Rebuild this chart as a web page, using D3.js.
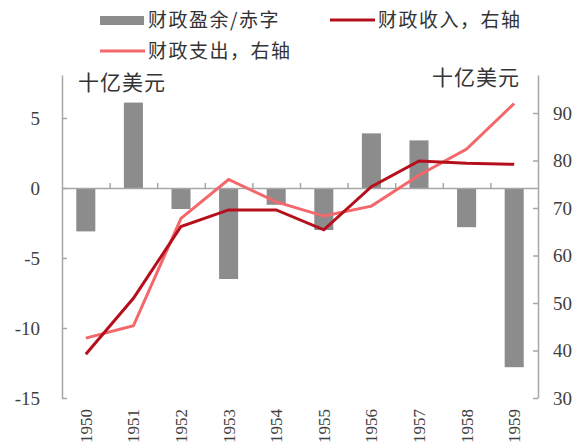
<!DOCTYPE html>
<html>
<head>
<meta charset="utf-8">
<script src="https://cdn.jsdelivr.net/npm/d3@7"></script>
<style>
  body { margin: 0; background: #fff; }
  svg { display: block; }
</style>
</head>
<body>
<div id="chart"></div>
<script>
// data
const years = ['1950', '1951', '1952', '1953', '1954', '1955', '1956', '1957', '1958', '1959'];
const surplus = [-3.1, 6.1, -1.5, -6.5, -1.2, -3.0, 3.9, 3.4, -2.8, -12.8];   // 财政盈余/赤字, left axis
const revenue = [39.2, 51.0, 66.1, 69.6, 69.6, 65.4, 74.5, 79.9, 79.4, 79.2]; // 财政收入, right axis
const spending = [42.6, 45.2, 67.8, 76.0, 71.3, 68.3, 70.4, 76.9, 82.4, 92.0]; // 财政支出, right axis
const leftTicks = [-15, -10, -5, 0, 5];
const rightTicks = [30, 40, 50, 60, 70, 80, 90];

const W = 578, H = 445;
const plotLeft = 62, plotRight = 538, plotTop = 75, plotBottom = 398;
const axisColor = '#a6a6a6';
const cjk = '"Noto Sans CJK SC", sans-serif';
const serif = '"Liberation Serif", "DejaVu Serif", serif';

const svg = d3.select('#chart').append('svg')
  .attr('width', W)
  .attr('height', H);

const x = d3.scaleBand()
  .domain(years)
  .range([plotLeft, plotRight])
  .paddingInner(0.6)
  .paddingOuter(0.3);

const yL = d3.scaleLinear().domain([-15, 8.07]).range([plotBottom, plotTop]);
const yR = d3.scaleLinear().domain([30, 98]).range([plotBottom, plotTop]);

// bars
svg.append('g')
  .selectAll('rect')
  .data(surplus)
  .enter()
  .append('rect')
  .attr('x', (d, i) => x(years[i]))
  .attr('y', d => Math.min(yL(d), yL(0)))
  .attr('width', x.bandwidth())
  .attr('height', d => Math.abs(yL(d) - yL(0)))
  .attr('fill', '#8c8c8c');

// zero line with category boundary ticks
const xb = d3.scaleLinear().domain([0, years.length]).range([plotLeft, plotRight]);
const zero = svg.append('g')
  .attr('transform', `translate(0,${yL(0)})`)
  .call(d3.axisTop(xb).tickValues(d3.range(1, years.length)).tickSize(5).tickSizeOuter(0).tickFormat(''));
zero.selectAll('path, line').attr('stroke', axisColor).attr('stroke-width', 1.5);

// left axis (plain hyphen for negatives, like the original)
const gL = svg.append('g')
  .attr('transform', `translate(${plotLeft},0)`)
  .call(d3.axisLeft(yL).tickValues(leftTicks).tickSize(-5).tickSizeOuter(0).tickPadding(22)
    .tickFormat(d => String(d)));
gL.selectAll('path, line').attr('stroke', axisColor).attr('stroke-width', 1.5);
gL.selectAll('text').attr('font-family', serif).attr('font-size', 19).attr('fill', '#404040');

// right axis
const gR = svg.append('g')
  .attr('transform', `translate(${plotRight},0)`)
  .call(d3.axisRight(yR).tickValues(rightTicks).tickSize(-5).tickSizeOuter(0).tickPadding(15));
gR.selectAll('path, line').attr('stroke', axisColor).attr('stroke-width', 1.5);
gR.selectAll('text').attr('font-family', serif).attr('font-size', 19).attr('fill', '#404040');

// year labels
svg.append('g')
  .selectAll('text')
  .data(years)
  .enter()
  .append('text')
  .attr('transform', d => `translate(${x(d) + x.bandwidth() / 2 + 6},409) rotate(-90)`)
  .attr('text-anchor', 'end')
  .attr('font-family', serif)
  .attr('font-size', 17)
  .attr('fill', '#404040')
  .text(d => d);

// lines
const line = d3.line()
  .x((d, i) => x(years[i]) + x.bandwidth() / 2)
  .y(d => yR(d));

svg.append('path')
  .datum(spending)
  .attr('d', line)
  .attr('fill', 'none')
  .attr('stroke', '#f4676a')
  .attr('stroke-width', 3);

svg.append('path')
  .datum(revenue)
  .attr('d', line)
  .attr('fill', 'none')
  .attr('stroke', '#b50f1c')
  .attr('stroke-width', 3);

// unit labels
svg.append('text').attr('x', 78).attr('y', 90)
  .attr('font-family', cjk).attr('font-size', 21).attr('letter-spacing', 1).attr('fill', '#333')
  .text('十亿美元');
svg.append('text').attr('x', 432).attr('y', 85)
  .attr('font-family', cjk).attr('font-size', 21).attr('letter-spacing', 1).attr('fill', '#333')
  .text('十亿美元');

// legend
const legend = svg.append('g')
  .attr('font-family', cjk)
  .attr('font-size', 19)
  .attr('letter-spacing', 1.5)
  .attr('fill', '#333');

legend.append('rect').attr('x', 100).attr('y', 16).attr('width', 44).attr('height', 9).attr('fill', '#8c8c8c');
legend.append('text').attr('x', 148).attr('y', 27).text('财政盈余/赤字');

legend.append('line').attr('x1', 330).attr('x2', 375).attr('y1', 20).attr('y2', 20)
  .attr('stroke', '#b50f1c').attr('stroke-width', 3);
legend.append('text').attr('x', 378).attr('y', 27).text('财政收入，右轴');

legend.append('line').attr('x1', 100).attr('x2', 145).attr('y1', 51).attr('y2', 51)
  .attr('stroke', '#f4676a').attr('stroke-width', 3);
legend.append('text').attr('x', 148).attr('y', 58).text('财政支出，右轴');
</script>
</body>
</html>
